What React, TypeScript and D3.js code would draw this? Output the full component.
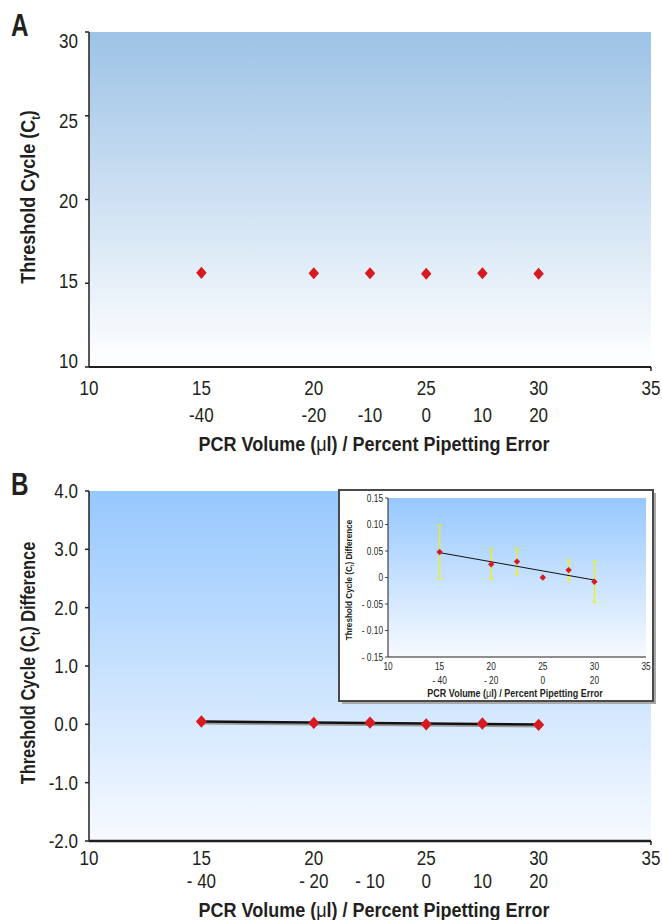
import React from 'react';
import * as d3 from 'd3';

// PCR volume (µl) on x, with the matching pipetting error (%) underneath
const volumes = [15, 20, 22.5, 25, 27.5, 30];
const errorLabelsA = ['-40', '-20', '-10', '0', '10', '20'];
const errorLabelsB = ['- 40', '- 20', '- 10', '0', '10', '20'];
const insetErrorVolumes = [15, 20, 25, 30];
const insetErrorLabels = ['- 40', '- 20', '0', '20'];

// panel A: threshold cycle
const ctValues = [15.62, 15.6, 15.6, 15.57, 15.6, 15.57];
// panel B: Ct difference and its spread
const ctDiff = [0.048, 0.025, 0.03, 0, 0.014, -0.008];
const ctDiffErr = [0.05, 0.028, 0.025, 0, 0.019, 0.038];

const xTicks = [10, 15, 20, 25, 30, 35];
const yTicksA = [10, 15, 20, 25, 30];
const yTicksB = [-2, -1, 0, 1, 2, 3, 4];
const insetYTicks = [0.15, 0.1, 0.05, 0, -0.05, -0.1, -0.15];

const FONT = "'Liberation Sans', Arial, sans-serif";
const INK = '#231f20';
const RED = '#d71920';

// least squares fit through the Ct differences
function fit(xs: number[], ys: number[]) {
  const mx = d3.mean(xs)!;
  const my = d3.mean(ys)!;
  let sxy = 0;
  let sxx = 0;
  xs.forEach((x, i) => {
    sxy += (x - mx) * (ys[i] - my);
    sxx += (x - mx) * (x - mx);
  });
  const slope = sxy / sxx;
  return (x: number) => my + slope * (x - mx);
}

function diamond(size: number) {
  return d3.symbol().type(d3.symbolDiamond2).size(size)()!;
}

type TProps = {
  x: number;
  y: number;
  size: number;
  anchor?: string;
  bold?: boolean;
  rotate?: boolean;
  squeeze?: number;
  children: React.ReactNode;
};

// horizontally squeezed text, to fake the condensed face of the original
function T({ x, y, size, anchor = 'middle', bold = false, rotate = false, squeeze, children }: TProps) {
  const sx = squeeze ?? (bold ? 0.9 : 0.83);
  return (
    <text
      transform={`translate(${x},${y})${rotate ? ' rotate(-90)' : ''} scale(${sx},1)`}
      textAnchor={anchor}
      fontFamily={FONT}
      fontWeight={bold ? 'bold' : 'normal'}
      fontSize={size}
      fill={INK}
    >
      {children}
    </text>
  );
}

function CtLabel({ x, y, size, suffix, squeeze }: { x: number; y: number; size: number; suffix: string; squeeze?: number }) {
  return (
    <T x={x} y={y} size={size} bold rotate squeeze={squeeze}>
      Threshold Cycle (C
      <tspan fontSize={size * 0.6} dy={size * 0.25}>t</tspan>
      <tspan dy={-size * 0.25}>){suffix}</tspan>
    </T>
  );
}

function XTitle({ x, y, size }: { x: number; y: number; size: number }) {
  return (
    <T x={x} y={y} size={size} bold>
      PCR Volume (<tspan fontWeight="normal">μ</tspan>l) / Percent Pipetting Error
    </T>
  );
}

export default function App() {
  const fitLine = fit(volumes, ctDiff);

  // panel A (tick labels sit on a slightly tighter spacing than the ticks)
  const xA = d3.scaleLinear().domain([10, 35]).range([89, 651]);
  const yA = d3.scaleLinear().domain([10, 30]).range([367, 32]);
  const yALabel = d3.scaleLinear().domain([10, 30]).range([360, 40]);

  // panel B
  const xB = d3.scaleLinear().domain([10, 35]).range([89, 651]);
  const yB = d3.scaleLinear().domain([-2, 4]).range([841, 491]);

  // inset
  const xI = d3.scaleLinear().domain([10, 35]).range([388, 646]);
  const yI = d3.scaleLinear().domain([-0.15, 0.15]).range([657, 498]);

  const line = d3
    .line<number>()
    .x((d) => xB(d))
    .y((d) => yB(fitLine(d)));
  const lineI = d3
    .line<number>()
    .x((d) => xI(d))
    .y((d) => yI(fitLine(d)));
  const ends = [volumes[0], volumes[volumes.length - 1]];

  return (
    <svg width={662} height={920} style={{ position: 'absolute', left: 0, top: 0, background: '#fff' }}>
      <defs>
        <linearGradient id="gA" x1="0" y1="0" x2="0" y2="1">
          <stop offset="0" stopColor="#9dc3e6" />
          <stop offset="1" stopColor="#ffffff" />
        </linearGradient>
        <linearGradient id="gB" x1="0" y1="0" x2="0" y2="1">
          <stop offset="0" stopColor="#96c8fe" />
          <stop offset="1" stopColor="#f7faff" />
        </linearGradient>
      </defs>

      {/* ---------- panel A ---------- */}
      <T x={11} y={36} size={32} anchor="start" bold squeeze={0.76}>A</T>
      <rect x={xA(10)} y={yA(30)} width={xA(35) - xA(10)} height={yA(10) - yA(30)} fill="url(#gA)" />
      <line x1={xA(10)} x2={xA(35)} y1={yA(10)} y2={yA(10)} stroke={INK} strokeWidth={2} />
      <line x1={xA(10)} x2={xA(10)} y1={yA(30)} y2={yA(10)} stroke={INK} strokeWidth={1.5} />
      <line x1={xA(35)} x2={xA(35)} y1={yA(10)} y2={yA(10) + 4} stroke={INK} strokeWidth={1.5} />
      {yTicksA.map((t) => (
        <g key={t}>
          <line x1={xA(10) - 4} x2={xA(10)} y1={yA(t)} y2={yA(t)} stroke={INK} strokeWidth={1.5} />
          <T x={xA(10) - 11} y={yALabel(t) + 7.5} size={20.5} anchor="end">{t}</T>
        </g>
      ))}
      {xTicks.map((t) => (
        <T key={t} x={xA(t)} y={395} size={20.5}>{t}</T>
      ))}
      {volumes.map((v, i) => (
        <T key={v} x={xA(v)} y={422} size={20.5}>{errorLabelsA[i]}</T>
      ))}
      <XTitle x={374} y={451} size={20} />
      <CtLabel x={35} y={197} size={20} suffix="" />
      {volumes.map((v, i) => (
        <path
          key={v}
          d={diamond(70)}
          transform={`translate(${xA(v)},${yA(ctValues[i])}) scale(1,1.15)`}
          fill={RED}
        />
      ))}

      {/* ---------- panel B ---------- */}
      <T x={11} y={495} size={32} anchor="start" bold squeeze={0.76}>B</T>
      <rect x={xB(10)} y={yB(4)} width={xB(35) - xB(10)} height={yB(-2) - yB(4)} fill="url(#gB)" />
      <line x1={xB(10)} x2={xB(35)} y1={yB(-2)} y2={yB(-2)} stroke={INK} strokeWidth={2.5} />
      <line x1={xB(10)} x2={xB(10)} y1={yB(4)} y2={yB(-2)} stroke={INK} strokeWidth={1.5} />
      <line x1={xB(35)} x2={xB(35)} y1={yB(-2)} y2={yB(-2) + 4} stroke={INK} strokeWidth={1.5} />
      {yTicksB.map((t) => (
        <g key={t}>
          <line x1={xB(10) - 4} x2={xB(10)} y1={yB(t)} y2={yB(t)} stroke={INK} strokeWidth={1.5} />
          <T x={xB(10) - 11} y={yB(t) + 7} size={20.5} anchor="end">{t.toFixed(1)}</T>
        </g>
      ))}
      {xTicks.map((t) => (
        <T key={t} x={xB(t)} y={865} size={20.5}>{t}</T>
      ))}
      {volumes.map((v, i) => (
        <T key={v} x={xB(v)} y={888} size={20.5}>{errorLabelsB[i]}</T>
      ))}
      <XTitle x={374} y={917} size={20} />
      <CtLabel x={35} y={663} size={20} suffix=" Difference" squeeze={0.82} />
      <path d={line(ends)!} transform="translate(1,2)" stroke="#9a9a9a" strokeWidth={2} fill="none" />
      <path d={line(ends)!} stroke="#111" strokeWidth={2.5} fill="none" />
      {volumes.map((v, i) => (
        <path
          key={v}
          d={diamond(80)}
          transform={`translate(${xB(v)},${yB(ctDiff[i])}) scale(1,1.1)`}
          fill={RED}
        />
      ))}

      {/* ---------- inset ---------- */}
      <rect x={342} y={493} width={314} height={211} fill="#a8a8a8" />
      <rect x={339} y={490} width={314} height={211} fill="#fff" stroke="#4a4a4a" strokeWidth={2} />
      <rect x={xI(10)} y={yI(0.15)} width={xI(35) - xI(10)} height={yI(-0.15) - yI(0.15)} fill="url(#gB)" />
      <line x1={xI(10)} x2={xI(35)} y1={yI(-0.15)} y2={yI(-0.15)} stroke={INK} strokeWidth={1.2} />
      <line x1={xI(10)} x2={xI(10)} y1={yI(0.15)} y2={yI(-0.15)} stroke={INK} strokeWidth={1} />
      {insetYTicks.map((t) => (
        <g key={t}>
          <line x1={xI(10) - 3} x2={xI(10)} y1={yI(t)} y2={yI(t)} stroke={INK} strokeWidth={0.8} />
          <T x={xI(10) - 5} y={yI(t) + 3.5} size={10} anchor="end">
            {t === 0 ? '0' : t < 0 ? `- ${Math.abs(t).toFixed(2)}` : t.toFixed(2)}
          </T>
        </g>
      ))}
      {xTicks.map((t) => (
        <T key={t} x={xI(t)} y={670} size={10}>{t}</T>
      ))}
      {insetErrorVolumes.map((v, i) => (
        <T key={v} x={xI(v)} y={684} size={10}>{insetErrorLabels[i]}</T>
      ))}
      <XTitle x={515} y={697} size={10} />
      <CtLabel x={352} y={580} size={9.7} suffix=" Difference" squeeze={0.84} />
      {volumes.map((v, i) =>
        ctDiffErr[i] > 0 ? (
          <g key={v} stroke="#f2f200" strokeWidth={1.2}>
            <line x1={xI(v)} x2={xI(v)} y1={yI(ctDiff[i] + ctDiffErr[i])} y2={yI(ctDiff[i] - ctDiffErr[i])} />
            <line x1={xI(v) - 2} x2={xI(v) + 2} y1={yI(ctDiff[i] + ctDiffErr[i])} y2={yI(ctDiff[i] + ctDiffErr[i])} />
            <line x1={xI(v) - 2} x2={xI(v) + 2} y1={yI(ctDiff[i] - ctDiffErr[i])} y2={yI(ctDiff[i] - ctDiffErr[i])} />
          </g>
        ) : null
      )}
      <path d={lineI(ends)!} stroke="#111" strokeWidth={1} fill="none" />
      {volumes.map((v, i) => (
        <path key={v} d={diamond(26)} transform={`translate(${xI(v)},${yI(ctDiff[i])})`} fill={RED} />
      ))}
    </svg>
  );
}
